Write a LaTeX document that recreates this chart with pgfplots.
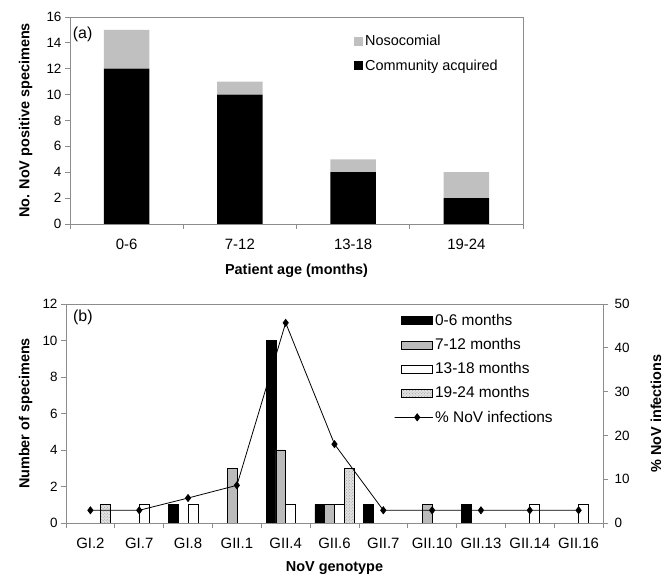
\documentclass[border=0pt]{standalone}
\usepackage{fontspec}
\setmainfont{Liberation Sans}
\usepackage{pgfplots}
\usepackage{pgfplotstable}
\usetikzlibrary{patterns}
\pgfplotsset{compat=1.18}
\definecolor{axgray}{HTML}{8C8C8C}
\definecolor{noso}{HTML}{C0C0C0}
\definecolor{midgray}{HTML}{BBBBBB}
\definecolor{dotgray}{HTML}{E2E2E2}

\pgfplotstableread{
x comm noso
0 12 3
1 10 1
2 4 1
3 2 2
}\agedata

\pgfplotsset{
  common/.style={
    scale only axis, anchor=south west,
    /pgf/number format/assume math mode=true,
    axis line style={axgray, line width=0.8pt},
    every tick/.style={axgray, line width=0.8pt},
    major tick length=5bp, minor tick length=5bp,
    tick align=outside,
    yticklabel style={font=\fontsize{13.5}{15}\selectfont},
    xticklabel style={font=\fontsize{15}{17}\selectfont},
    label style={font=\bfseries\fontsize{14.5}{16}\selectfont},
  },
  sqlegend/.style={legend image code/.code={\fill[##1] (0bp,-4.5bp) rectangle (9bp,4.5bp);}},
  barlegend/.style={legend image code/.code={\draw[##1] (0bp,-4bp) rectangle (31bp,4bp);}},
  linelegend/.style={legend image code/.code={%
    \draw[##1, mark=none] (0bp,0bp) -- (31bp,0bp);
    \draw[##1] plot coordinates {(15.5bp,0bp)};}},
  dotbar/.style={fill=dotgray, draw=black, line width=0.6pt,
    postaction={pattern=crosshatch dots, pattern color=black!40}},
}

\begin{document}
\begin{tikzpicture}
\path[use as bounding box] (0,0) rectangle (672bp,579bp);
% ---------------- panel (a)
\begin{axis}[common,
  at={(70bp,355bp)}, width=453bp, height=207bp,
  ymin=0, ymax=16, ytick={0,2,...,16},
  xmin=-0.5, xmax=3.5, xtick={0,1,2,3}, xticklabels={0-6,7-12,13-18,19-24},
  minor xtick={-0.5,0.5,1.5,2.5,3.5},
  major x tick style={draw=none},
  xtick pos=bottom, ytick pos=left,
  xticklabel style={yshift=-7bp},
  ybar stacked, bar width=0.4,
  xlabel={Patient age (months)}, ylabel={No. NoV positive specimens},
  xlabel style={at={(rel axis cs:0.5,-0.225)}, anchor=center},
  ylabel style={at={(rel axis cs:-0.098,0.5)}, anchor=center, rotate=0},
  reverse legend,
  legend cell align=left,
  legend style={at={(rel axis cs:0.627,0.922)}, anchor=north west, draw=none, fill=none,
    font=\fontsize{14.5}{16}\selectfont, row sep=8.5bp, inner sep=0pt},
]
\addplot[fill=black, draw=none, sqlegend] table[x=x,y=comm]{\agedata};
\addlegendentry{Community acquired}
\addplot[fill=noso, draw=none, sqlegend] table[x=x,y=noso]{\agedata};
\addlegendentry{Nosocomial}
\node[anchor=north west, inner sep=0pt, font=\fontsize{16}{18}\selectfont] at (rel axis cs:0.006,0.955) {(a)};
\end{axis}
% ---------------- panel (b), left axis
\begin{axis}[common,
  at={(66bp,56bp)}, width=537bp, height=219bp,
  ymin=0, ymax=12, ytick={0,2,...,12},
  xmin=-0.5, xmax=10.5, xtick={0,...,10},
  xticklabels={GI.2,GI.7,GI.8,GII.1,GII.4,GII.6,GII.7,GII.10,GII.13,GII.14,GII.16},
  minor xtick={-0.5,0.5,...,10.5},
  major x tick style={draw=none},
  xtick pos=bottom, ytick pos=left,
  xticklabel style={yshift=-7bp},
  ybar, bar width=0.2,
  xlabel={NoV genotype}, ylabel={Number of specimens},
  xlabel style={at={(rel axis cs:0.5,-0.2055)}, anchor=center},
  ylabel style={at={(rel axis cs:-0.075,0.5)}, anchor=center, rotate=0},
  legend cell align=left,
  legend style={at={(rel axis cs:0.611,0.963)}, anchor=north west, draw=none, fill=none,
    font=\fontsize{15.5}{17}\selectfont, row sep=7.5bp, inner sep=0pt},
]
\addplot[fill=black, draw=black, line width=0.6pt, bar shift=-0.3, barlegend]
  coordinates {(2,1) (4,10) (5,1) (6,1) (8,1)};
\addlegendentry{0-6 months}
\addplot[fill=midgray, draw=black, line width=0.6pt, bar shift=-0.1, barlegend]
  coordinates {(3,3) (4,4) (5,1) (7,1)};
\addlegendentry{7-12 months}
\addplot[fill=white, draw=black, line width=0.6pt, bar shift=0.1, barlegend]
  coordinates {(1,1) (2,1) (4,1) (5,1) (9,1) (10,1)};
\addlegendentry{13-18 months}
\addplot[dotbar, bar shift=0.3, barlegend]
  coordinates {(0,1) (5,3)};
\addlegendentry{19-24 months}
\addlegendimage{black, line width=0.8pt, mark=diamond*, mark size=3.5pt, linelegend}
\addlegendentry{\% NoV infections}
\node[anchor=north west, inner sep=0pt, font=\fontsize{16}{18}\selectfont] at (rel axis cs:0.013,0.975) {(b)};
\end{axis}
% ---------------- panel (b), right axis
\begin{axis}[common,
  at={(66bp,56bp)}, width=537bp, height=219bp,
  xmin=-0.5, xmax=10.5, ymin=0, ymax=50, ytick={0,10,...,50},
  axis y line*=right, axis x line=none,
  yticklabel style={xshift=3bp},
  ylabel={\% NoV infections},
  ylabel style={at={(rel axis cs:1.0987,0.5)}, anchor=center, rotate=0},
]
\addplot[black, line width=0.8pt, mark=diamond*, mark size=3.5pt] coordinates {
  (0,2.9) (1,2.9) (2,5.7) (3,8.6) (4,45.7) (5,18) (6,2.9) (7,2.9) (8,2.9) (9,2.9) (10,2.9)};
\end{axis}
\end{tikzpicture}
\end{document}
